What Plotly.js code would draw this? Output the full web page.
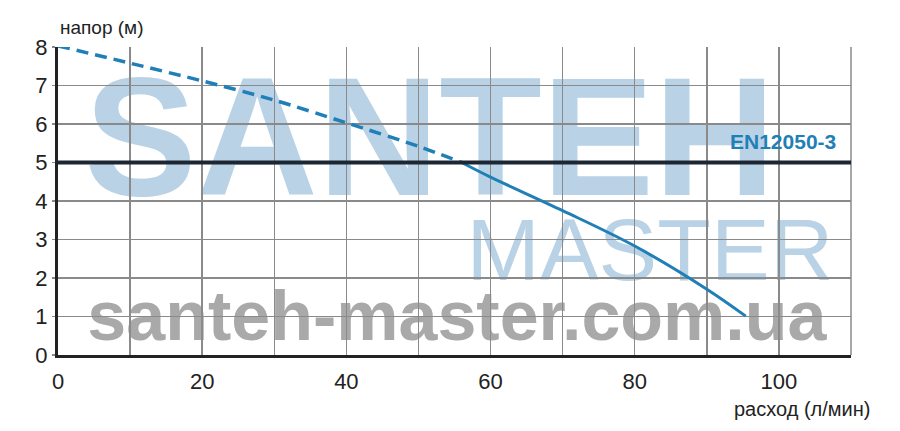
<!DOCTYPE html>
<html>
<head>
<meta charset="utf-8">
<script src="https://cdn.plot.ly/plotly-3.0.1.min.js"></script>
<style>html,body{margin:0;padding:0;background:#fff;}#chart{width:900px;height:431px;}</style>
</head>
<body>
<div id="chart"></div>
<script>
// Data
const dashedFlow = [0, 10, 20, 30, 40, 50, 56];
const dashedHead = [8.03, 7.58, 7.12, 6.62, 6.03, 5.42, 5.0];
const solidFlow = [56, 60, 70, 80, 90, 95.4];
const solidHead = [5.0, 4.62, 3.75, 2.83, 1.71, 1.01];
const standardHead = 5;
const standardLabel = 'EN12050-3';
const xTickVals = [0, 20, 40, 60, 80, 100];
const xTickText = ['0', '20', '40', '60', '80', '100'];
const yTickVals = [0, 1, 2, 3, 4, 5, 6, 7, 8];
const yTickText = ['0', '1', '2', '3', '4', '5', '6', '7', '8'];
const xTitle = 'расход (л/мин)';
const yTitle = 'напор (м)';
const watermark = ['SANTEH', 'MASTER', 'santeh-master.com.ua'];

const curveColor = '#1f7fb6';
const gridColor = '#8a8a8a';
const font = 'Liberation Sans, Arial, sans-serif';

const traces = [
  {x: dashedFlow, y: dashedHead, mode: 'lines', type: 'scatter',
   line: {color: curveColor, width: 3.5, dash: '12px,7px', shape: 'spline', smoothing: 0.8}, hoverinfo: 'skip'},
  {x: solidFlow, y: solidHead, mode: 'lines', type: 'scatter',
   line: {color: curveColor, width: 3, shape: 'spline', smoothing: 1}, hoverinfo: 'skip'}
];

function wm(text, cx, cy, size, color, bold) {
  return {type: 'rect', xref: 'paper', yref: 'paper', layer: 'below',
    x0: cx - 0.45, x1: cx + 0.45, y0: cy - 0.2, y1: cy + 0.2,
    line: {width: 0}, fillcolor: 'rgba(0,0,0,0)',
    label: {text: bold ? '<b>' + text + '</b>' : text, textposition: 'middle center',
      font: {family: font, size: size, color: color}}};
}

const layout = {
  width: 900, height: 431,
  margin: {l: 58, r: 49, t: 47, b: 76},
  paper_bgcolor: '#ffffff', plot_bgcolor: 'rgba(0,0,0,0)',
  showlegend: false,
  font: {family: font, color: '#222'},
  xaxis: {range: [0, 110], tickvals: xTickVals, ticktext: xTickText,
    showgrid: true, gridcolor: gridColor, gridwidth: 1.5,
    minor: {dtick: 10, showgrid: true, gridcolor: gridColor, gridwidth: 1.5},
    showline: true, linecolor: '#222', linewidth: 3, zeroline: false,
    ticks: '', ticklabelstandoff: 5, tickfont: {size: 22, color: '#222'},
    fixedrange: true},
  yaxis: {range: [0, 8], tickvals: yTickVals, ticktext: yTickText,
    showgrid: true, gridcolor: gridColor, gridwidth: 1.5,
    showline: true, linecolor: '#222', linewidth: 3, zeroline: false,
    ticks: 'outside', ticklen: 3, tickcolor: gridColor, tickwidth: 1.5,
    ticklabelstandoff: 0, tickfont: {size: 22, color: '#222'},
    fixedrange: true},
  shapes: [
    wm(watermark[0], 0.469, 0.76, 168, '#b9d2e6', true),
    wm(watermark[1], 0.7465, 0.37, 88, '#b9d2e6', false),
    wm(watermark[2], 0.503, 0.15, 70, '#a9a9a9', true),
    {type: 'line', xref: 'paper', yref: 'y', x0: 0, x1: 1, y0: standardHead, y1: standardHead,
     line: {color: '#1c2733', width: 4}, layer: 'above'},
    {type: 'line', xref: 'paper', yref: 'paper', x0: 1, x1: 1, y0: 0, y1: 1,
     line: {color: gridColor, width: 1.5}, layer: 'below'}
  ],
  annotations: [
    {text: yTitle, xref: 'paper', yref: 'paper', x: 0, y: 1.062, xanchor: 'left', yanchor: 'middle',
     showarrow: false, font: {size: 19, color: '#222'}},
    {text: xTitle, xref: 'paper', yref: 'paper', x: 1.0265, y: -0.175, xanchor: 'right', yanchor: 'middle',
     showarrow: false, font: {size: 20, color: '#222'}},
    {text: '<b>' + standardLabel + '</b>', xref: 'x', yref: 'y', x: 108.2, y: standardHead + 0.55,
     xanchor: 'right', yanchor: 'middle', showarrow: false, font: {size: 21, color: curveColor}}
  ]
};

Plotly.newPlot('chart', traces, layout, {displayModeBar: false, staticPlot: true});
</script>
</body>
</html>
